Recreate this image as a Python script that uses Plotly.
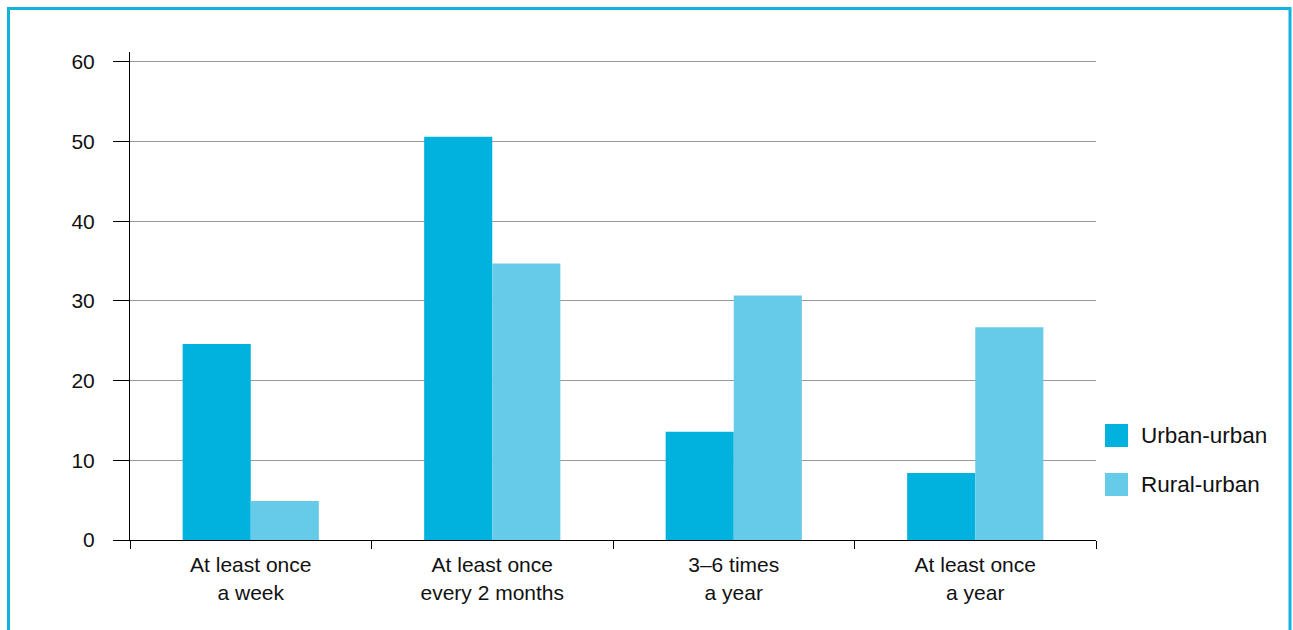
import plotly.graph_objects as go

categories = ["At least once<br>a week", "At least once<br>every 2 months", "3–6 times<br>a year", "At least once<br>a year"]
urban_urban = [24.6, 50.6, 13.6, 8.4]
rural_urban = [4.9, 34.7, 30.7, 26.7]
series_names = ["Urban-urban", "Rural-urban"]
y_ticks = [0, 10, 20, 30, 40, 50, 60]

c_urban = "#00B2DD"
c_rural = "#66CBE9"
font_family = "Liberation Sans, Arial, sans-serif"

W, H = 1293, 630
ML, MR, MT, MB = 130, 197, 52, 90
PW, PH = W - ML - MR, H - MT - MB

def px(x):
    return (x - ML) / PW

def py(y):
    return 1 - (y - MT) / PH

fig = go.Figure()
fig.add_trace(go.Bar(x=categories, y=urban_urban, name=series_names[0], marker_color=c_urban, marker_line_width=0))
fig.add_trace(go.Bar(x=categories, y=rural_urban, name=series_names[1], marker_color=c_rural, marker_line_width=0))

shapes = []
annotations = []
# outer frame
shapes.append(dict(type="rect", xref="paper", yref="paper",
                   x0=px(8.5), x1=px(1290), y0=py(660), y1=py(8.5),
                   line=dict(color="#0FB3DE", width=3), fillcolor="rgba(0,0,0,0)", layer="below"))
# custom legend
leg_y = [435.5, 484.5]
for name, col, yc in zip(series_names, [c_urban, c_rural], leg_y):
    shapes.append(dict(type="rect", xref="paper", yref="paper",
                       x0=px(1105), x1=px(1128), y0=py(yc + 11.5), y1=py(yc - 11.5),
                       line=dict(width=0), fillcolor=col))
    annotations.append(dict(x=px(1139), y=py(yc), xref="paper", yref="paper", text=name,
                            showarrow=False, xanchor="left", yanchor="middle",
                            font=dict(size=22.5, color="#111111", family=font_family)))

fig.update_layout(
    width=W, height=H, autosize=False,
    margin=dict(l=ML, r=MR, t=MT, b=MB, pad=0),
    paper_bgcolor="white", plot_bgcolor="white",
    barmode="group", bargap=0.436, bargroupgap=0,
    showlegend=False,
    font=dict(family=font_family, size=21, color="#111111"),
    shapes=shapes, annotations=annotations,
    xaxis=dict(type="category", range=[-0.5, 3.5], tickson="boundaries",
               ticks="outside", ticklen=8, tickcolor="black", tickwidth=1,
               showline=True, linecolor="black", linewidth=1,
               showgrid=False, zeroline=False, tickfont=dict(size=21),
               ticklabelstandoff=6),
    yaxis=dict(range=[0, 61.25], tickvals=y_ticks, ticks="outside", ticklen=16,
               tickcolor="black", tickwidth=1, showline=True, linecolor="black", linewidth=1,
               showgrid=True, gridcolor="#9a9a9a", gridwidth=1, zeroline=False,
               tickfont=dict(size=21), ticklabelstandoff=14),
)

fig.write_html("out.html", config={"displayModeBar": False},
               post_script="document.body.style.margin='0';document.body.style.overflow='hidden';")
